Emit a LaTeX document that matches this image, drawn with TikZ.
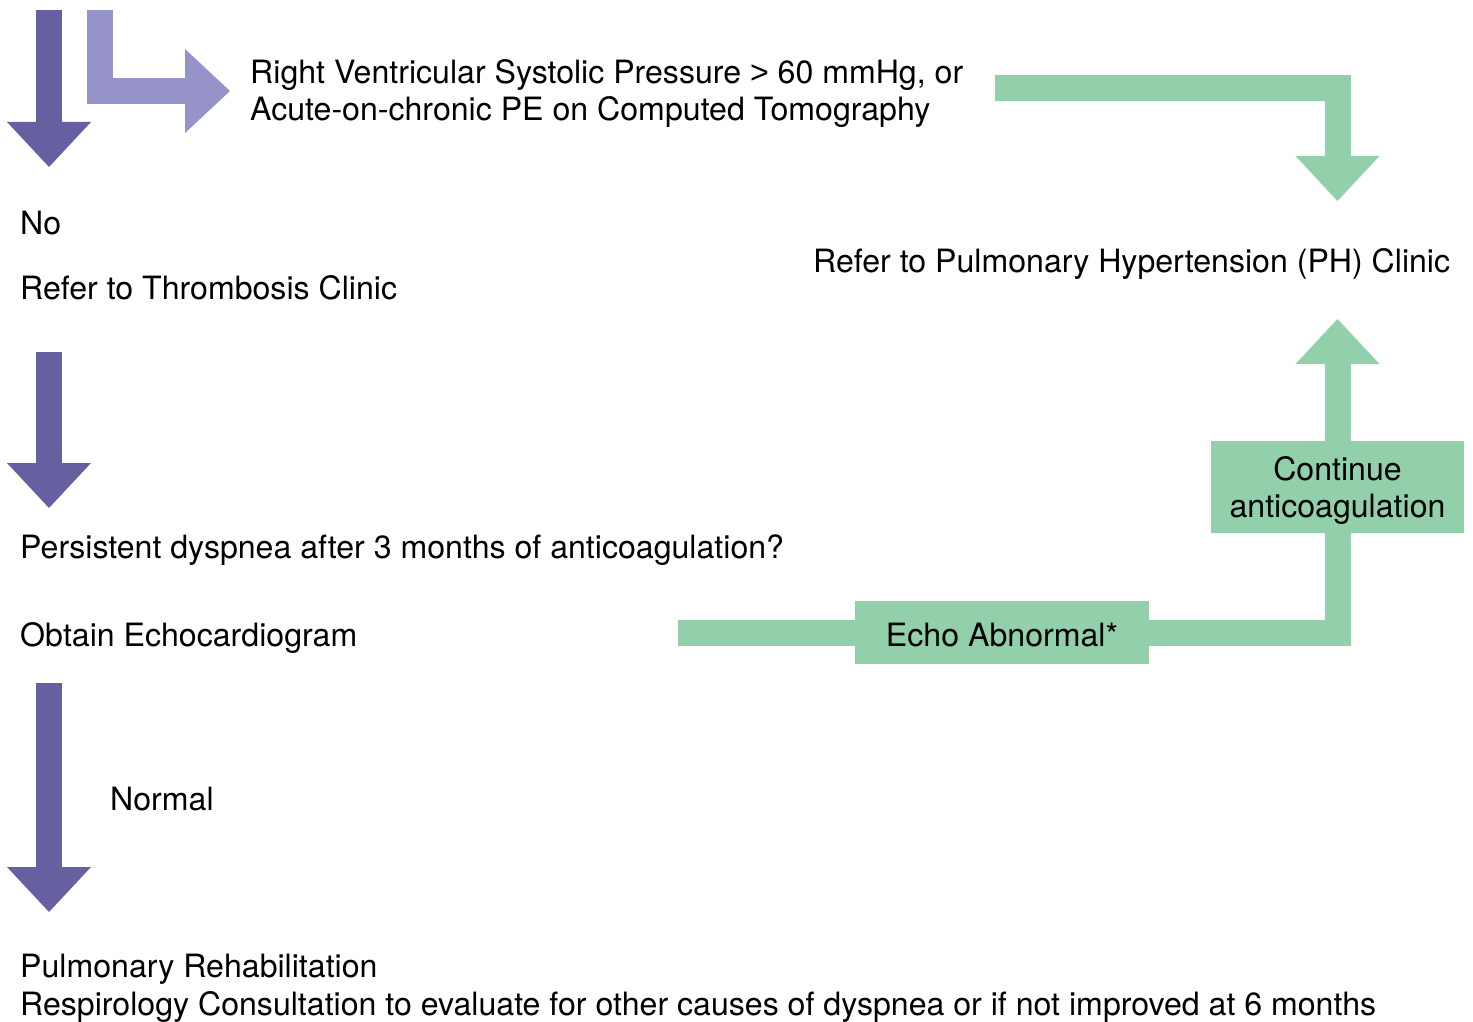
\documentclass[tikz,border=0pt]{standalone}
\usepackage{fontspec}
\setmainfont{TeX Gyre Heros}
\newfontfamily\gtfont{Liberation Sans}
\usetikzlibrary{arrows.meta}
\definecolor{purpdark}{RGB}{102,96,161}
\definecolor{purplight}{RGB}{150,147,201}
\definecolor{mint}{RGB}{146,208,171}
\newcommand{\flowsize}{\fontsize{32.1}{37.5}\selectfont}

\begin{document}
\begin{tikzpicture}[x=1pt,y=-1pt,
    txt/.style={anchor=base west,inner sep=0,font=\flowsize,align=left},
    box/.style={fill=mint,inner sep=0,font=\flowsize,align=center},
    fat/.style={line width=26pt,line join=miter,
      -{Triangle[width=84pt,length=45pt,line width=0pt]}}]
    \useasboundingbox (0,0) rectangle (1473,1022);

    \node[txt] (rvsp) at (250,121) {Right Ventricular Systolic Pressure {\gtfont >} 60 mmHg, or\\Acute-on-chronic PE on Computed Tomography};
    \node[txt] (no) at (20,234) {No};
    \node[txt] (thromb) at (20,299) {Refer to Thrombosis Clinic};
    \node[txt] (ph) at (813,272) {Refer to Pulmonary Hypertension (PH) Clinic};
    \node[txt] (persist) at (20,558) {Persistent dyspnea after 3 months of anticoagulation?};
    \node[txt] (obtain) at (20,646) {Obtain Echocardiogram};
    \node[txt] (normal) at (110,810) {Normal};
    \node[txt] (rehab) at (20,1015) {Pulmonary Rehabilitation\\Respirology Consultation to evaluate for other causes of dyspnea or if not improved at 6 months};

    \node[box,text depth=0pt,minimum width=253pt,minimum height=92pt] (cont) at (1337.5,487) {Continue\\anticoagulation};
    \node[box,text height=28pt,text depth=0pt,minimum width=294pt,minimum height=63pt] (echo) at (1002,632.5) {Echo Abnormal*};

    \coordinate (d1s) at (49,10);
    \coordinate (d1e) at (49,167);
    \coordinate (d2s) at (49,352);
    \coordinate (d2e) at (49,508);
    \coordinate (d3s) at (49,683);
    \coordinate (d3e) at (49,912);
    \coordinate (yesS) at (100,10);
    \coordinate (yesE) at (230,91);
    \coordinate (rvspOut) at (995,88.5);
    \coordinate (phIn) at (1337.5,201);
    \coordinate (echoIn) at (678,632.5);
    \coordinate (phUp) at (1337.5,319);

    \draw[fat,color=purpdark] (d1s) -- (d1e);
    \draw[fat,color=purpdark] (d2s) -- (d2e);
    \draw[fat,color=purpdark] (d3s) -- (d3e);
    \draw[fat,color=purplight] (yesS) |- (yesE);
    \draw[fat,color=mint] (rvspOut) -| (phIn);
    \draw[line width=26pt,color=mint] (echoIn) -- (echo.west);
    \draw[line width=26pt,line join=miter,color=mint] (echo.east) -| (cont.south);
    \draw[fat,color=mint] (cont.north) -- (phUp);
\end{tikzpicture}
\end{document}
